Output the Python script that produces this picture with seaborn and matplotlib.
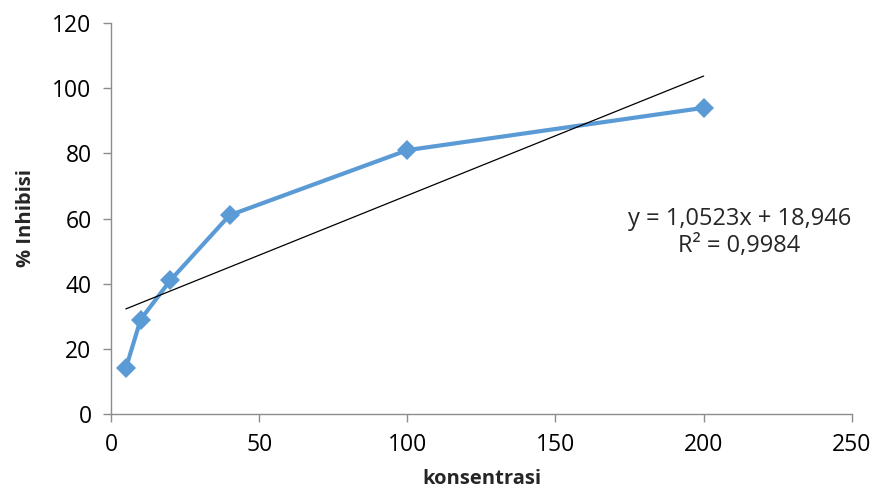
import numpy as np
import pandas as pd
import seaborn as sns
import matplotlib.pyplot as plt

sns.set_style("white")
plt.rcParams['font.family'] = ['Open Sans', 'DejaVu Sans']

konsentrasi = [5, 10, 20, 40, 100, 200]
inhibisi = [14, 29, 41, 61, 81, 94]
x_ticks = [0, 50, 100, 150, 200, 250]
y_ticks = [0, 20, 40, 60, 80, 100, 120]
eq_text = "y = 1,0523x + 18,946\nR² = 0,9984"

df = pd.DataFrame({"konsentrasi": konsentrasi, "inhibisi": inhibisi})

fig = plt.figure(figsize=(8.83, 5.03), dpi=100)
ax = fig.add_axes([0.1257, 0.177, 0.839, 0.777])

sns.lineplot(data=df, x="konsentrasi", y="inhibisi", ax=ax, color="#5B9BD5",
             lw=3, marker="D", markersize=10, markeredgewidth=0, sort=False)
sns.regplot(data=df, x="konsentrasi", y="inhibisi", ax=ax, scatter=False,
            ci=None, truncate=True, line_kws={"color": "black", "lw": 0.9})

ax.set_xlim(0, 250)
ax.set_ylim(0, 120)
ax.set_xticks(x_ticks)
ax.set_yticks(y_ticks)
ax.tick_params(axis="both", labelsize=16.5, labelcolor="black", direction="out",
               length=6, width=1, color="#8c8c8c", pad=8, bottom=True, left=True)
for s in ["top", "right"]:
    ax.spines[s].set_visible(False)
for s in ["left", "bottom"]:
    ax.spines[s].set_color("#8c8c8c")
    ax.spines[s].set_linewidth(1)

ax.set_xlabel("konsentrasi", fontsize=14.5, fontweight="bold", labelpad=8)
ax.set_ylabel("% Inhibisi", fontsize=14.5, fontweight="bold", labelpad=12)

ax.text(0.848, 0.465, eq_text, transform=ax.transAxes, fontsize=17,
        ha="center", va="center", linespacing=1.15)

fig.savefig("out.png", dpi=100)
